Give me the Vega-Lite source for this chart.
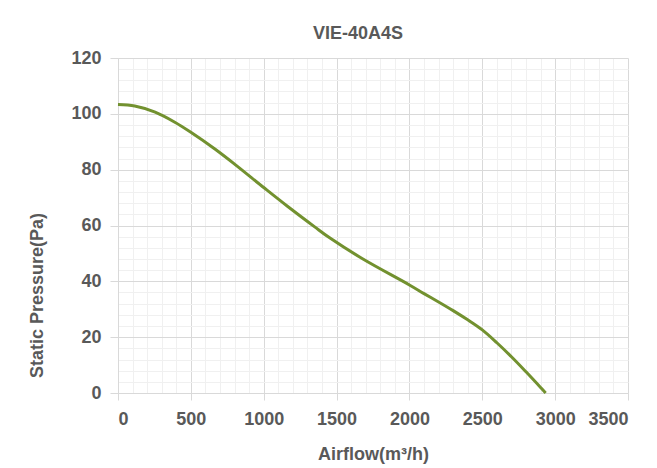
{
  "$schema": "https://vega.github.io/schema/vega-lite/v6.json",
  "autosize": {"type": "none"},
  "width": 510,
  "height": 335,
  "padding": {"left": 118, "top": 58, "right": 29, "bottom": 75},
  "background": "white",
  "title": {
    "text": "VIE-40A4S",
    "font": "Liberation Sans",
    "fontSize": 18,
    "fontWeight": "bold",
    "color": "#595959",
    "anchor": "middle",
    "frame": "group",
    "dx": -15,
    "offset": 6
  },
  "data": {
    "values": [
      {"airflow": 0, "pressure": 103.3},
      {"airflow": 115, "pressure": 102.8},
      {"airflow": 255, "pressure": 100.6},
      {"airflow": 390, "pressure": 97.0},
      {"airflow": 500, "pressure": 93.4},
      {"airflow": 665, "pressure": 87.4},
      {"airflow": 800, "pressure": 82.0},
      {"airflow": 1000, "pressure": 73.6},
      {"airflow": 1165, "pressure": 66.8},
      {"airflow": 1350, "pressure": 59.5},
      {"airflow": 1455, "pressure": 55.5},
      {"airflow": 1684, "pressure": 47.9},
      {"airflow": 2000, "pressure": 38.7},
      {"airflow": 2100, "pressure": 35.6},
      {"airflow": 2200, "pressure": 32.6},
      {"airflow": 2300, "pressure": 29.5},
      {"airflow": 2400, "pressure": 26.2},
      {"airflow": 2500, "pressure": 22.6},
      {"airflow": 2600, "pressure": 18.0},
      {"airflow": 2700, "pressure": 13.0},
      {"airflow": 2800, "pressure": 7.6},
      {"airflow": 2900, "pressure": 2.0},
      {"airflow": 2935, "pressure": 0}
    ]
  },
  "mark": {"type": "line", "color": "#72912f", "strokeWidth": 3, "interpolate": "catmull-rom"},
  "encoding": {
    "x": {
      "field": "airflow",
      "type": "quantitative",
      "scale": {"domain": [0, 3500], "nice": false},
      "axis": {
        "title": "Airflow(m³/h)",
        "values": [0,100,200,300,400,500,600,700,800,900,1000,1100,1200,1300,1400,1500,1600,1700,1800,1900,2000,2100,2200,2300,2400,2500,2600,2700,2800,2900,3000,3100,3200,3300,3400,3500],
        "labelExpr": "datum.value % 500 === 0 ? datum.label : ''",
        "labelOverlap": false,
        "format": "d",
        "gridColor": {"condition": {"test": "datum.value % 500 === 0", "value": "#d9d9d9"}, "value": "#f0f0f0"},
        "tickOpacity": {"condition": {"test": "datum.value % 500 === 0", "value": 1}, "value": 0},
        "tickColor": "#d9d9d9",
        "tickSize": 7,
        "domain": true,
        "domainColor": "#d9d9d9",
        "labelPadding": 10,
        "titlePadding": 17
      }
    },
    "y": {
      "field": "pressure",
      "type": "quantitative",
      "scale": {"domain": [0, 120], "nice": false},
      "axis": {
        "title": "Static Pressure(Pa)",
        "values": [0,4,8,12,16,20,24,28,32,36,40,44,48,52,56,60,64,68,72,76,80,84,88,92,96,100,104,108,112,116,120],
        "labelExpr": "datum.value % 20 === 0 ? datum.label : ''",
        "labelOverlap": false,
        "gridColor": {"condition": {"test": "datum.value % 20 === 0", "value": "#d9d9d9"}, "value": "#f0f0f0"},
        "tickOpacity": {"condition": {"test": "datum.value % 20 === 0", "value": 1}, "value": 0},
        "tickColor": "#d9d9d9",
        "tickSize": 8,
        "domain": true,
        "domainColor": "#d9d9d9",
        "labelPadding": 9,
        "titlePadding": 24,
        "titleY": 237
      }
    }
  },
  "config": {
    "view": {"stroke": null},
    "axis": {
      "labelFont": "Liberation Sans",
      "labelFontSize": 18,
      "labelFontWeight": "bold",
      "labelColor": "#595959",
      "titleFont": "Liberation Sans",
      "titleFontSize": 18,
      "titleFontWeight": "bold",
      "titleColor": "#595959",
      "gridWidth": 1
    }
  }
}
